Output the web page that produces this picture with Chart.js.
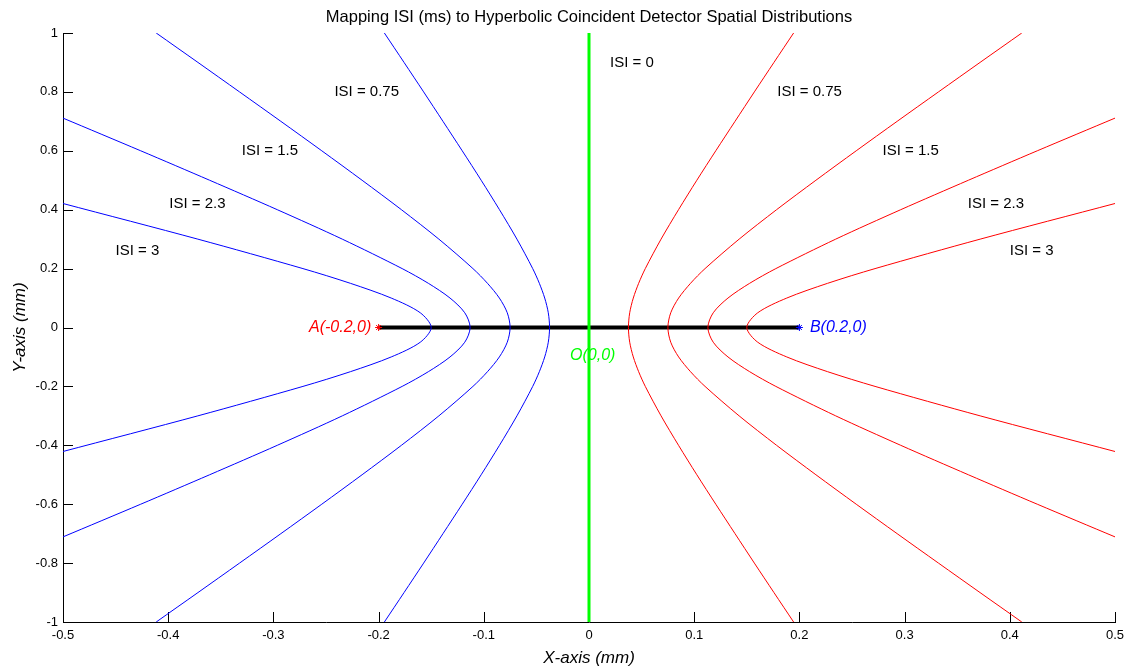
<!DOCTYPE html>
<html>
<head>
<meta charset="utf-8">
<script src="https://cdn.jsdelivr.net/npm/chart.js@4.4.0/dist/chart.umd.min.js"></script>
<style>
  html, body { margin: 0; padding: 0; background: #fff; }
</style>
</head>
<body>
<canvas id="isiChart" width="1138" height="670"></canvas>
<script>
const isiValues = [0.75, 1.5, 2.3, 3];

// y (mm) sampled along each hyperbola branch, one row per ISI
const branchY = [
  [-1, -0.9, -0.8, -0.7, -0.6, -0.5, -0.4, -0.3, -0.2, -0.15, -0.1, -0.05, 0, 0.05, 0.1, 0.15, 0.2, 0.3, 0.4, 0.5, 0.6, 0.7, 0.8, 0.9, 1],
  [-1, -0.9, -0.8, -0.7, -0.6, -0.5, -0.4, -0.3, -0.2, -0.15, -0.1, -0.05, 0, 0.05, 0.1, 0.15, 0.2, 0.3, 0.4, 0.5, 0.6, 0.7, 0.8, 0.9, 1],
  [-0.711, -0.6, -0.5, -0.4, -0.3, -0.2, -0.15, -0.1, -0.05, 0, 0.05, 0.1, 0.15, 0.2, 0.3, 0.4, 0.5, 0.6, 0.711],
  [-0.421, -0.3, -0.2, -0.15, -0.1, -0.05, 0, 0.05, 0.1, 0.15, 0.2, 0.3, 0.421]
];
// distance (mm) of the branch from the midline at those y values
const branchX = [
  [0.1945, 0.1758, 0.1572, 0.1388, 0.1205, 0.1025, 0.0851, 0.0685, 0.0535, 0.0472, 0.0421, 0.0387, 0.0375, 0.0387, 0.0421, 0.0472, 0.0535, 0.0685, 0.0851, 0.1025, 0.1205, 0.1388, 0.1572, 0.1758, 0.1945],
  [0.4114, 0.3717, 0.3322, 0.2929, 0.2540, 0.2157, 0.1783, 0.1427, 0.1103, 0.0965, 0.0852, 0.0777, 0.075, 0.0777, 0.0852, 0.0965, 0.1103, 0.1427, 0.1783, 0.2157, 0.2540, 0.2929, 0.3322, 0.3717, 0.4114],
  [0.5, 0.4261, 0.3606, 0.2963, 0.2345, 0.1776, 0.1527, 0.1321, 0.1181, 0.113, 0.1181, 0.1321, 0.1527, 0.1776, 0.2345, 0.2963, 0.3606, 0.4261, 0.5],
  [0.5, 0.3718, 0.2719, 0.2268, 0.1880, 0.1604, 0.15, 0.1604, 0.1880, 0.2268, 0.2719, 0.3718, 0.5]
];

// detectors A and B, midpoint O
const detectorX = [-0.2, 0.2];
const detectorY = [0, 0];

// ISI labels beside the branches
const labelTexts = ['ISI = 0', 'ISI = 0.75', 'ISI = 0.75', 'ISI = 1.5', 'ISI = 1.5', 'ISI = 2.3', 'ISI = 2.3', 'ISI = 3', 'ISI = 3'];
const labelX = [0.02, -0.242, 0.179, -0.33, 0.279, -0.399, 0.36, -0.45, 0.40];
const labelY = [0.9, 0.8, 0.8, 0.6, 0.6, 0.42, 0.42, 0.26, 0.26];

// point labels
const pointTexts = ['A(-0.2,0)', 'B(0.2,0)', 'O(0,0)'];
const pointLabelX = [-0.207, 0.21, -0.018];
const pointLabelY = [0, 0, -0.095];
const pointColors = ['#ff0000', '#0000ff', '#00ff00'];
const pointAlign = ['right', 'left', 'left'];

const FONT = '"Liberation Sans", Arial, Helvetica, sans-serif';

const datasets = [];
isiValues.forEach((isi, i) => {
  datasets.push({
    label: 'ISI ' + isi + ' (A side)',
    data: branchY[i].map((y, k) => ({ x: -branchX[i][k], y: y })),
    borderColor: '#0000ff',
  });
  datasets.push({
    label: 'ISI ' + isi + ' (B side)',
    data: branchY[i].map((y, k) => ({ x: branchX[i][k], y: y })),
    borderColor: '#ff0000',
  });
});
datasets.forEach(d => {
  d.showLine = true;
  d.borderWidth = 1;
  d.pointRadius = 0;
  d.tension = 0.3;
});

// A and B markers
datasets.push({
  label: 'A',
  data: [{ x: detectorX[0], y: detectorY[0] }],
  pointStyle: 'star', pointRadius: 3.5, borderColor: '#ff0000', borderWidth: 1,
  showLine: false,
});
datasets.push({
  label: 'B',
  data: [{ x: detectorX[1], y: detectorY[1] }],
  pointStyle: 'star', pointRadius: 3.5, borderColor: '#0000ff', borderWidth: 1,
  showLine: false,
});
// ISI = 0 midline
datasets.push({
  label: 'ISI 0',
  data: [{ x: 0, y: -1 }, { x: 0, y: 1 }],
  showLine: true, borderColor: '#00ff00', borderWidth: 3, pointRadius: 0,
});
// segment AB
datasets.push({
  label: 'AB',
  data: [{ x: detectorX[0], y: detectorY[0] }, { x: detectorX[1], y: detectorY[1] }],
  showLine: true, borderColor: '#000000', borderWidth: 4, pointRadius: 0,
});

// MATLAB-style ticks pointing into the plot
const inwardTicks = {
  id: 'inwardTicks',
  beforeDatasetsDraw(chart) {
    const { ctx, chartArea, scales: { x, y } } = chart;
    ctx.save();
    ctx.strokeStyle = '#000';
    ctx.lineWidth = 1;
    ctx.beginPath();
    x.ticks.forEach(t => {
      const px = Math.round(x.getPixelForValue(t.value)) + 0.5;
      ctx.moveTo(px, chartArea.bottom);
      ctx.lineTo(px, chartArea.bottom - 10);
    });
    y.ticks.forEach(t => {
      const py = Math.round(y.getPixelForValue(t.value)) + 0.5;
      ctx.moveTo(chartArea.left, py);
      ctx.lineTo(chartArea.left + 10, py);
    });
    ctx.stroke();
    ctx.restore();
  }
};

const textLabels = {
  id: 'textLabels',
  afterDatasetsDraw(chart) {
    const { ctx, scales: { x, y } } = chart;
    ctx.save();
    ctx.textBaseline = 'middle';
    ctx.font = '15px ' + FONT;
    ctx.fillStyle = '#000';
    ctx.textAlign = 'left';
    labelTexts.forEach((t, i) => {
      ctx.fillText(t, x.getPixelForValue(labelX[i]), y.getPixelForValue(labelY[i]));
    });
    ctx.font = 'italic 16px ' + FONT;
    pointTexts.forEach((t, i) => {
      ctx.fillStyle = pointColors[i];
      ctx.textAlign = pointAlign[i];
      ctx.fillText(t, x.getPixelForValue(pointLabelX[i]), y.getPixelForValue(pointLabelY[i]));
    });
    ctx.restore();
  }
};

// plain numbers like MATLAB: 1, 0.8, 0, -1
const tickText = v => String(Math.round(v * 10) / 10);

new Chart(document.getElementById('isiChart'), {
  type: 'scatter',
  data: { datasets },
  options: {
    responsive: false,
    animation: false,
    layout: { padding: { left: 0, right: 23, top: 0, bottom: 0 } },
    plugins: {
      legend: { display: false },
      tooltip: { enabled: false },
      title: {
        display: true,
        fullSize: false,
        text: 'Mapping ISI (ms) to Hyperbolic Coincident Detector Spatial Distributions',
        color: '#000',
        font: { family: FONT, size: 16.5, weight: 'normal' },
        padding: { top: 8, bottom: 5.2 },
      },
    },
    scales: {
      x: {
        type: 'linear',
        min: -0.5, max: 0.5,
        ticks: { stepSize: 0.1, color: '#000', font: { family: FONT, size: 13 }, padding: 6, maxRotation: 0, callback: tickText },
        grid: { display: false, drawTicks: false },
        border: { display: true, color: '#000', width: 1 },
        title: {
          display: true, text: 'X-axis (mm)', color: '#000',
          font: { family: FONT, size: 17, style: 'italic' },
          padding: { top: 0, bottom: 2 },
        },
        afterFit(scale) { scale.height = 48; },
      },
      y: {
        type: 'linear',
        min: -1, max: 1,
        ticks: { stepSize: 0.2, color: '#000', font: { family: FONT, size: 13 }, padding: 5, callback: tickText },
        grid: { display: false, drawTicks: false },
        border: { display: true, color: '#000', width: 1 },
        title: {
          display: true, text: 'Y-axis (mm)', color: '#000',
          font: { family: FONT, size: 17, style: 'italic' },
          padding: { top: 10, bottom: 0 },
        },
        afterFit(scale) { scale.width = 63; },
      },
    },
  },
  plugins: [inwardTicks, textLabels],
});
</script>
</body>
</html>
